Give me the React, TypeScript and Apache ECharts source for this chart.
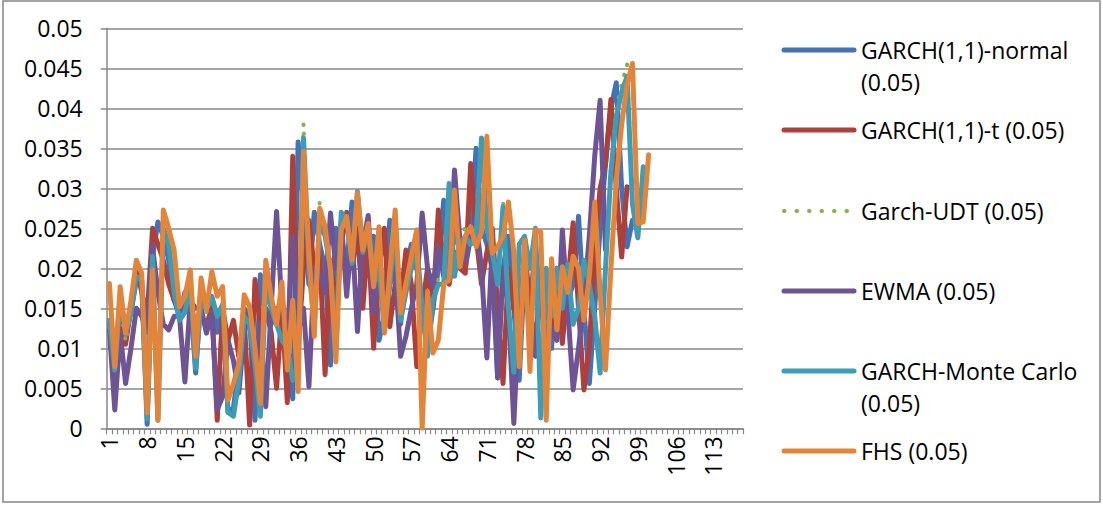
import React, { useEffect, useRef } from "react";
import * as echarts from "echarts";

const CATEGORIES: string[] = Array.from({ length: 118 }, (_, i) => String(i + 1));

const SERIES_NAMES = [
  "GARCH(1,1)-normal (0.05)",
  "GARCH(1,1)-t (0.05)",
  "Garch-UDT (0.05)",
  "EWMA (0.05)",
  "GARCH-Monte Carlo (0.05)",
  "FHS (0.05)",
];

const LEGEND_LABELS = [
  ["GARCH(1,1)-normal", "(0.05)"],
  ["GARCH(1,1)-t (0.05)"],
  ["Garch-UDT (0.05)"],
  ["EWMA (0.05)"],
  ["GARCH-Monte Carlo", "(0.05)"],
  ["FHS (0.05)"],
];

const COLORS = ["#4373B6", "#AE403C", "#8BAE4A", "#6E5494", "#3D9CB6", "#E2843A"];

const GARCH_NORMAL = [
  0.0135, 0.0078, 0.015, 0.012, 0.0145, 0.0185, 0.018, 0.0005, 0.0215, 0.0258,
  0.024, 0.021, 0.016, 0.014, 0.017, 0.0165, 0.0069, 0.017, 0.0165, 0.016,
  0.012, 0.015, 0.002, 0.0025, 0.008, 0.015, 0.014, 0.001, 0.0192, 0.014,
  0.013, 0.015, 0.012, 0.011, 0.0037, 0.0358, 0.028, 0.018, 0.027, 0.023,
  0.02, 0.0079, 0.025, 0.024, 0.02, 0.0283, 0.023, 0.018, 0.023, 0.024,
  0.011, 0.014, 0.026, 0.02, 0.013, 0.02, 0.023, 0.02, 0.015, 0.01,
  0.015, 0.02, 0.0285, 0.019, 0.025, 0.022, 0.02, 0.024, 0.035, 0.025,
  0.023, 0.02, 0.0063, 0.02, 0.024, 0.015, 0.006, 0.02, 0.015, 0.023,
  0.015, 0.012, 0.01, 0.02, 0.012, 0.016, 0.018, 0.0265, 0.015, 0.0056,
  0.015, 0.025, 0.033, 0.04, 0.0432, 0.03, 0.0227, 0.026,
];

const GARCH_T = [
  0.013, 0.009, 0.0125, 0.0105, 0.015, 0.02, 0.017, 0.014, 0.025, 0.023,
  0.021, 0.018, 0.016, 0.015, 0.016, 0.0165, 0.012, 0.014, 0.013, 0.015,
  0.001, 0.015, 0.011, 0.0135, 0.009, 0.014, 0.0004, 0.0186, 0.013, 0.015,
  0.012, 0.005, 0.015, 0.0032, 0.034, 0.01, 0.02, 0.026, 0.02, 0.022,
  0.0067, 0.021, 0.015, 0.023, 0.027, 0.02, 0.025, 0.015, 0.024, 0.01,
  0.02, 0.025, 0.0127, 0.018, 0.016, 0.0223, 0.018, 0.0077, 0.015, 0.02,
  0.015, 0.0273, 0.02, 0.018, 0.022, 0.02, 0.0194, 0.0331, 0.024, 0.018,
  0.022, 0.025, 0.015, 0.0056, 0.02, 0.015, 0.012, 0.023, 0.015, 0.01,
  0.02, 0.018, 0.013, 0.019, 0.0106, 0.018, 0.0257, 0.015, 0.0048, 0.01,
  0.022, 0.03, 0.033, 0.0411, 0.03, 0.0214, 0.0302,
];

const GARCH_UDT = [
  0.0135, 0.0074, 0.0163, 0.0108, 0.0145, 0.019, 0.0184, 0.0013, 0.0214, 0.0011,
  0.0251, 0.0229, 0.017, 0.0136, 0.0146, 0.0179, 0.0076, 0.016, 0.0145, 0.0165,
  0.014, 0.0154, 0.0021, 0.0016, 0.0061, 0.014, 0.0131, 0.0081, 0.0016, 0.018,
  0.015, 0.0131, 0.0111, 0.0101, 0.0061, 0.0081, 0.0381, 0.0205, 0.0131, 0.0283,
  0.0242, 0.0201, 0.0101, 0.0271, 0.0261, 0.0207, 0.0298, 0.0221, 0.0251, 0.0181,
  0.0201, 0.0124, 0.0181, 0.0251, 0.0136, 0.0171, 0.0201, 0.0231, 0.0151, 0.0091,
  0.0161, 0.0188, 0.0181, 0.0308, 0.0191, 0.0231, 0.0252, 0.0231, 0.0241, 0.0369,
  0.0251, 0.0221, 0.0181, 0.0283, 0.0151, 0.0071, 0.0231, 0.0241, 0.0201, 0.0251,
  0.0014, 0.0201, 0.0141, 0.0201, 0.0151, 0.0206, 0.0131, 0.0151, 0.0211, 0.0181,
  0.0141, 0.007, 0.0205, 0.033, 0.04, 0.043, 0.0455, 0.0282, 0.0239, 0.0328,
];

const EWMA = [
  0.0123, 0.0023, 0.012, 0.0056, 0.01, 0.015, 0.014, 0.012, 0.0227, 0.017,
  0.013, 0.0123, 0.014, 0.014, 0.0058, 0.016, 0.015, 0.015, 0.0119, 0.0145,
  0.0023, 0.004, 0.011, 0.0085, 0.0044, 0.012, 0.0145, 0.006, 0.013, 0.0027,
  0.015, 0.0271, 0.015, 0.011, 0.024, 0.012, 0.015, 0.0052, 0.02, 0.0194,
  0.017, 0.0269, 0.02, 0.026, 0.0165, 0.0244, 0.0121, 0.023, 0.0266, 0.0144,
  0.023, 0.0135, 0.018, 0.02, 0.009, 0.0115, 0.015, 0.018, 0.0269, 0.02,
  0.0177, 0.0227, 0.019, 0.02, 0.0323, 0.0235, 0.021, 0.024, 0.026, 0.02,
  0.0088, 0.023, 0.0063, 0.02, 0.015, 0.0006, 0.015, 0.018, 0.013, 0.009,
  0.018, 0.015, 0.012, 0.011, 0.0248, 0.015, 0.0048, 0.01, 0.016, 0.024,
  0.034, 0.041, 0.0223,
];

const MONTE_CARLO = [
  0.0135, 0.0073, 0.0165, 0.0118, 0.0145, 0.019, 0.0185, 0.0012, 0.0215, 0.001,
  0.025, 0.023, 0.017, 0.0135, 0.0145, 0.018, 0.0075, 0.016, 0.015, 0.0165,
  0.014, 0.0155, 0.002, 0.0015, 0.006, 0.014, 0.013, 0.008, 0.0015, 0.018,
  0.015, 0.013, 0.011, 0.01, 0.006, 0.008, 0.0363, 0.02, 0.013, 0.026,
  0.024, 0.02, 0.01, 0.027, 0.026, 0.0206, 0.0296, 0.022, 0.025, 0.018,
  0.02, 0.0123, 0.018, 0.025, 0.0135, 0.017, 0.02, 0.023, 0.015, 0.009,
  0.016, 0.018, 0.018, 0.0306, 0.019, 0.023, 0.024, 0.023, 0.024, 0.0363,
  0.025, 0.022, 0.018, 0.0277, 0.015, 0.007, 0.023, 0.024, 0.02, 0.025,
  0.0013, 0.02, 0.014, 0.02, 0.015, 0.0205, 0.013, 0.015, 0.021, 0.018,
  0.014, 0.0069, 0.02, 0.032, 0.039, 0.042, 0.044, 0.028, 0.0238, 0.0327,
];

const FHS = [
  0.0181, 0.0077, 0.0177, 0.0119, 0.016, 0.021, 0.0194, 0.0019, 0.0198, 0.001,
  0.0273, 0.025, 0.0223, 0.0152, 0.0165, 0.0198, 0.009, 0.0188, 0.0148, 0.0196,
  0.0165, 0.0177, 0.0035, 0.0056, 0.008, 0.0167, 0.0152, 0.01, 0.0031, 0.021,
  0.0165, 0.013, 0.0183, 0.0073, 0.016, 0.0046, 0.0346, 0.022, 0.0115, 0.0275,
  0.0252, 0.0198, 0.0083, 0.0248, 0.0265, 0.021, 0.0294, 0.0223, 0.0256, 0.0177,
  0.0252, 0.0119, 0.0195, 0.0273, 0.0144, 0.0181, 0.0215, 0.0248, 0.0, 0.0171,
  0.0094, 0.011, 0.018, 0.0185, 0.0298, 0.0202, 0.024, 0.0252, 0.0227, 0.0245,
  0.0365, 0.0219, 0.0227, 0.024, 0.0283, 0.022, 0.0077, 0.0235, 0.0071, 0.0248,
  0.0245, 0.001, 0.0212, 0.0123, 0.0202, 0.017, 0.0215, 0.02, 0.0135, 0.019,
  0.0283, 0.017, 0.0073, 0.02, 0.031, 0.038, 0.043, 0.0456, 0.0256, 0.0258,
  0.0342,
];

const SERIES_DATA = [GARCH_NORMAL, GARCH_T, GARCH_UDT, EWMA, MONTE_CARLO, FHS];

const FONT = "'Open Sans', 'Liberation Sans', sans-serif";
const GRAY = "#878787";
const FONT_SIZE = 23;

export default function App() {
  const ref = useRef<HTMLDivElement>(null);

  useEffect(() => {
    if (!ref.current) return;
    const chart = echarts.init(ref.current, undefined, { renderer: "svg" });

    const legendGraphics: any[] = [];
    const legendY = [50, 130, 211, 291, 371, 451];
    LEGEND_LABELS.forEach((lines, k) => {
      const y = legendY[k];
      const isDotted = k === 2;
      legendGraphics.push({
        type: "line",
        shape: { x1: 784, y1: y, x2: 854, y2: y },
        style: {
          stroke: COLORS[k],
          lineWidth: isDotted ? 4 : 5,
          lineCap: "round",
          lineDash: isDotted ? [0.5, 12] : null,
        },
      });
      lines.forEach((t, j) => {
        legendGraphics.push({
          type: "text",
          x: 861,
          y: y + j * 32,
          style: {
            text: t,
            fill: "#000",
            font: `${FONT_SIZE}px ${FONT}`,
            textVerticalAlign: "middle",
            verticalAlign: "middle",
            textAlign: "left",
          },
        });
      });
    });

    chart.setOption({
      animation: false,
      backgroundColor: "#ffffff",
      grid: { left: 106.7, top: 28.3, right: 360, bottom: 79.7, containLabel: false },
      xAxis: {
        type: "category",
        data: CATEGORIES,
        boundaryGap: true,
        axisLine: { show: true, lineStyle: { color: GRAY, width: 1.5 } },
        axisTick: { show: true, interval: 0, length: 6, lineStyle: { color: GRAY, width: 1.2 } },
        axisLabel: {
          interval: 6,
          rotate: 90,
          margin: 8,
          color: "#000",
          fontSize: FONT_SIZE,
          fontFamily: FONT,
        },
        splitLine: { show: false },
      },
      yAxis: {
        type: "value",
        min: 0,
        max: 0.05,
        interval: 0.005,
        axisLine: { show: true, lineStyle: { color: GRAY, width: 1.5 } },
        axisTick: { show: true, length: 6, lineStyle: { color: GRAY, width: 1.5 } },
        splitLine: { show: true, lineStyle: { color: GRAY, width: 1.5 } },
        axisLabel: {
          margin: 24,
          color: "#000",
          fontSize: FONT_SIZE,
          fontFamily: FONT,
          formatter: (v: number) => String(+v.toFixed(3)),
        },
      },
      series: SERIES_NAMES.map((name, k) => ({
        name,
        type: "line",
        data: SERIES_DATA[k],
        symbol: "none",
        connectNulls: false,
        lineStyle:
          k === 2
            ? { color: COLORS[k], width: 4, type: [0.5, 11], cap: "round", join: "round" }
            : { color: COLORS[k], width: 5, cap: "round", join: "round" },
        itemStyle: { color: COLORS[k] },
      })),
      graphic: [
        {
          type: "rect",
          shape: { x: 3, y: 1, width: 1097, height: 501 },
          style: { fill: "none", stroke: GRAY, lineWidth: 1.5 },
          silent: true,
        },
        ...legendGraphics,
      ],
    });

    return () => chart.dispose();
  }, []);

  return (
    <div
      ref={ref}
      style={{ position: "fixed", left: 0, top: 0, width: 1103, height: 508, background: "#fff" }}
    />
  );
}
